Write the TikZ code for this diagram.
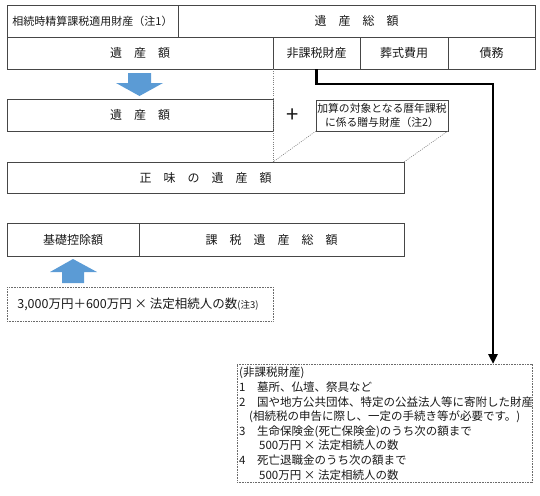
\documentclass[tikz,border=0pt]{standalone}
\usepackage{fontspec}
\setmainfont{Noto Sans CJK JP}
\usetikzlibrary{arrows.meta}
\definecolor{bord}{RGB}{70,70,70}
\definecolor{arrowblue}{RGB}{91,155,213}
\definecolor{txt}{RGB}{25,25,25}
\begin{document}
\begin{tikzpicture}[x=1pt,y=-1pt,
  cell/.style={draw=bord,line width=0.8pt,anchor=north west,inner sep=0pt,outer sep=0pt,
    font=\fontsize{12}{14}\selectfont,text=txt},
  dotbox/.style={draw=bord!80,line width=0.7pt,dash pattern=on 0.8pt off 0.8pt,anchor=north west,
    inner sep=0pt,outer sep=0pt,text=txt},
  guide/.style={draw=gray,line width=0.6pt,dash pattern=on 1pt off 1.2pt},
  thick connector/.style={draw=black,line width=2.8pt,-{Triangle[length=10pt,width=9pt]}}]
\useasboundingbox (0,0) rectangle (540,495);
% row 1
\node[cell,minimum width=171pt,minimum height=32pt,font=\fontsize{11}{13}\selectfont] (r1a) at (7,5) {相続時精算課税適用財産（注1）};
\node[cell,minimum width=357pt,minimum height=32pt] (r1b) at (178,5) {遺　産　総　額};
% row 2
\node[cell,minimum width=266pt,minimum height=32pt] (r2a) at (7,37) {遺　産　額};
\node[cell,minimum width=87pt,minimum height=32pt] (hi) at (273,37) {非課税財産};
\node[cell,minimum width=88pt,minimum height=32pt] (sou) at (360,37) {葬式費用};
\node[cell,minimum width=87pt,minimum height=32pt] (sai) at (448,37) {債務};
% down arrow
\fill[arrowblue] (128,73) -- (151,73) -- (151,83) -- (163,83) -- (139.5,96) -- (116,83) -- (128,83) -- cycle;
% row 3
\node[cell,minimum width=266pt,minimum height=32pt] (r3) at (7,99) {遺　産　額};
\node[font=\fontsize{22}{22}\selectfont,text=txt] (plus) at (293,116) {+};
\node[cell,minimum width=132pt,minimum height=31pt,align=center,font=\fontsize{10.8}{13.5}\selectfont] (gift) at (316,100)
  {加算の対象となる暦年課税\\に係る贈与財産（注2）};
% net estate
\node[cell,minimum width=397pt,minimum height=31pt] (net) at (7,162) {正　味　の　遺　産　額};
% basic deduction row
\node[cell,minimum width=132pt,minimum height=33pt] (kiso) at (7,223) {基礎控除額};
\node[cell,minimum width=265pt,minimum height=33pt] (kazei) at (139,223) {課　税　遺　産　総　額};
% up arrow
\fill[arrowblue] (62,283) -- (84,283) -- (84,272) -- (97,272) -- (73,259) -- (50,272) -- (62,272) -- cycle;
% formula box
\node[dotbox,minimum width=266pt,minimum height=34pt,font=\fontsize{12.5}{14}\selectfont] (form) at (7,287)
  {\hspace*{-4pt}3,000万円＋600万円 × 法定相続人の数{\fontsize{9.5}{10}\selectfont (注3)}};
% non-taxable list box
\node[dotbox,minimum width=295pt,minimum height=118pt] (list) at (237,364) {};
\node[anchor=north west,inner sep=0pt,text=txt,font=\fontsize{11.5}{14.6}\selectfont,align=left] (listtext) at (239,367)
  {(非課税財産)\\
   \makebox[18pt][l]{1}墓所、仏壇、祭具など\\
   \makebox[18pt][l]{2}国や地方公共団体、特定の公益法人等に寄附した財産\\
   \hspace*{10pt}(相続税の申告に際し、一定の手続き等が必要です。)\\
   \makebox[18pt][l]{3}生命保険金(死亡保険金)のうち次の額まで\\
   \hspace*{20pt}500万円 × 法定相続人の数\\
   \makebox[18pt][l]{4}死亡退職金のうち次の額まで\\
   \hspace*{20pt}500万円 × 法定相続人の数};
% guide lines
\draw[guide] (r2a.south east) -- (net.north -| r2a.south east);
\draw[guide] (gift.south west) -- (net.north -| r2a.south east);
\draw[guide] (gift.south east) -- (net.north east);
% thick connector
\coordinate (bend) at (493,84);
\draw[thick connector] (hi.south) |- (bend) -- (bend |- list.north);
\end{tikzpicture}
\end{document}
